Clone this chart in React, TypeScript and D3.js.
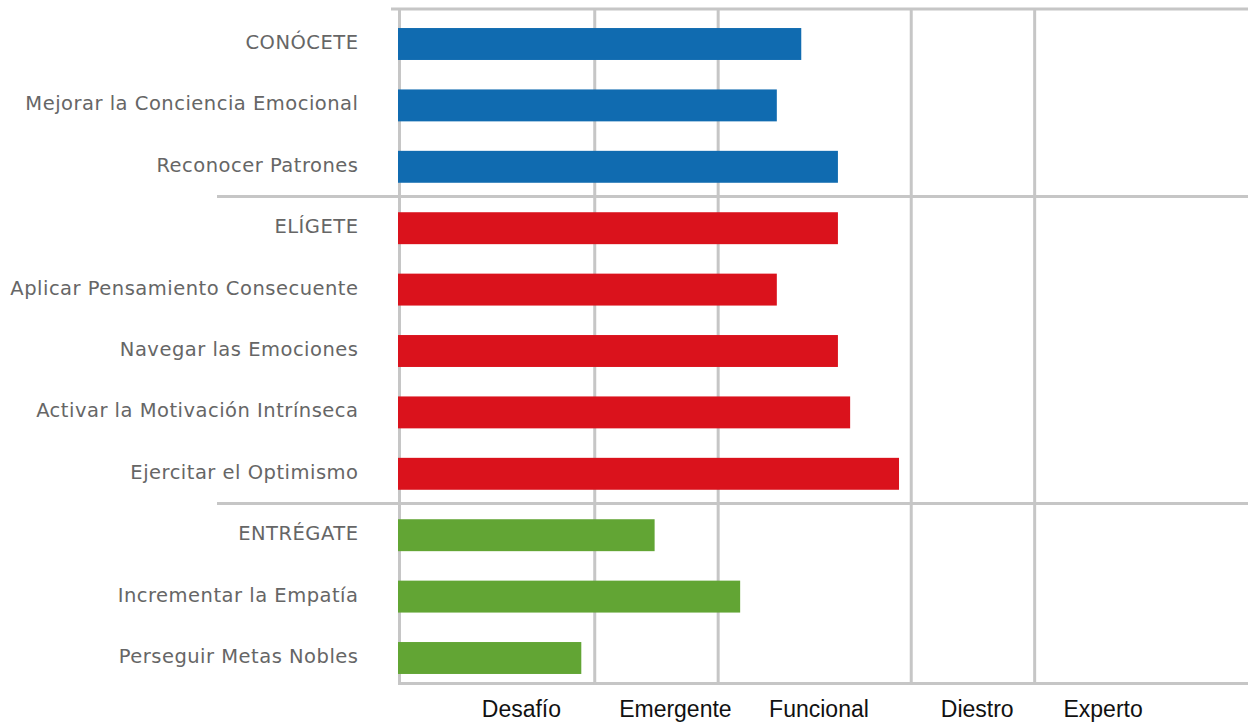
import React from "react";
import * as d3 from "d3";

// Competencies, grouped by pursuit
const competencies = [
  "CONÓCETE",
  "Mejorar la Conciencia Emocional",
  "Reconocer Patrones",
  "ELÍGETE",
  "Aplicar Pensamiento Consecuente",
  "Navegar las Emociones",
  "Activar la Motivación Intrínseca",
  "Ejercitar el Optimismo",
  "ENTRÉGATE",
  "Incrementar la Empatía",
  "Perseguir Metas Nobles",
];
const scores = [98, 96, 101, 101, 96, 101, 102, 106, 86, 93, 80];
const groupOf = [0, 0, 0, 1, 1, 1, 1, 1, 2, 2, 2];
const groupColors = ["#106bb0", "#da121c", "#62a534"];

// Level bands along the score axis
const scoreDomain = [65, 135];
const levelBoundaries = [81.1, 91.2, 107, 117.1];
const levelLabels = ["Desafío", "Emergente", "Funcional", "Diestro", "Experto"];
const levelLabelAt = [75.1, 87.7, 99.45, 112.4, 122.7];

const W = 1248;
const H = 722;
const axisX = 399.5;
const right = 1248;
const top = 9;
const bottom = 683.5;
const gridColor = "#c6c6c6";

export default function App() {
  const x = d3.scaleLinear().domain(scoreDomain).range([398, 1253.4]);
  const y = d3
    .scaleBand<string>()
    .domain(competencies)
    .range([13.3, 688.7])
    .paddingInner(0.48)
    .paddingOuter(0.24);
  const bw = y.bandwidth();

  // separators sit between the last row of one group and the first of the next
  const separators: number[] = [];
  for (let i = 1; i < competencies.length; i++) {
    if (groupOf[i] !== groupOf[i - 1]) {
      const prevBottom = (y(competencies[i - 1]) as number) + bw;
      const nextTop = y(competencies[i]) as number;
      separators.push((prevBottom + nextTop) / 2 - 1);
    }
  }

  return (
    <svg
      width={W}
      height={H}
      style={{ position: "absolute", left: 0, top: 0, background: "#fff" }}
    >
      {/* frame and level gridlines */}
      <line x1={391} x2={right} y1={top} y2={top} stroke={gridColor} strokeWidth={3} />
      <line x1={axisX} x2={right} y1={bottom} y2={bottom} stroke={gridColor} strokeWidth={3} />
      <line x1={axisX} x2={axisX} y1={top} y2={bottom + 1.5} stroke={gridColor} strokeWidth={3} />
      {levelBoundaries.map((v, i) => (
        <line
          key={"g" + i}
          x1={x(v)}
          x2={x(v)}
          y1={top}
          y2={bottom + 1.5}
          stroke={gridColor}
          strokeWidth={3}
        />
      ))}
      {separators.map((sy, i) => (
        <line key={"s" + i} x1={217} x2={right} y1={sy} y2={sy} stroke={gridColor} strokeWidth={3} />
      ))}

      {/* bars */}
      {competencies.map((c, i) => (
        <rect
          key={c}
          x={x(scoreDomain[0])}
          y={y(c)}
          width={x(scores[i]) - x(scoreDomain[0])}
          height={bw}
          fill={groupColors[groupOf[i]]}
        />
      ))}

      {/* competency labels */}
      {competencies.map((c) => (
        <text
          key={"t" + c}
          x={358.5}
          y={(y(c) as number) + bw / 2 + 5}
          textAnchor="end"
          fontFamily="'DejaVu Sans', sans-serif"
          fontSize={19.5}
          letterSpacing={0.5}
          fill="#666666"
        >
          {c}
        </text>
      ))}

      {/* level labels */}
      {levelLabels.map((l, i) => (
        <text
          key={"l" + l}
          x={x(levelLabelAt[i])}
          y={716.5}
          textAnchor="middle"
          fontFamily="'Liberation Sans', Arial, sans-serif"
          fontSize={23}
          fill="#111111"
        >
          {l}
        </text>
      ))}
    </svg>
  );
}
